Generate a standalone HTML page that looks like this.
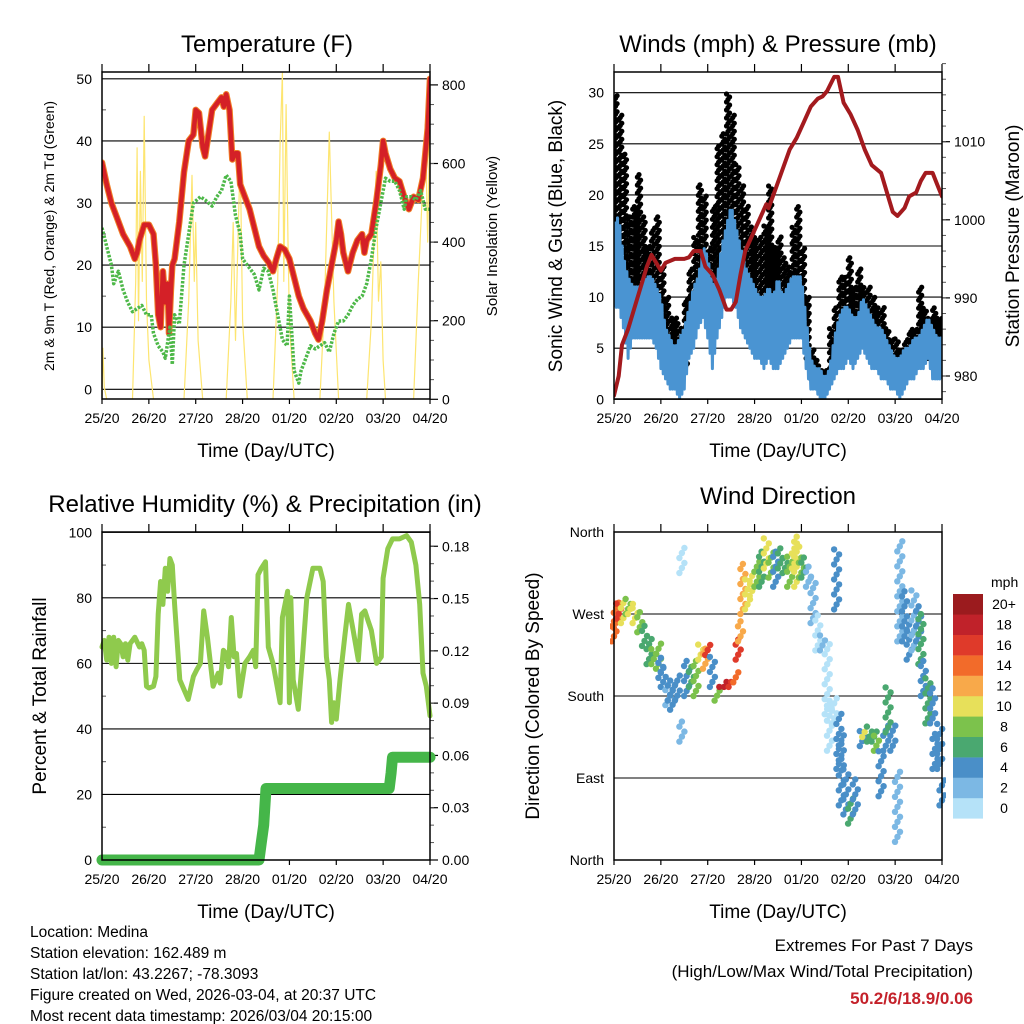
<!DOCTYPE html>
<html><head><meta charset="utf-8"><style>
body{margin:0;background:#fff}
svg{display:block;font-family:"Liberation Sans",sans-serif}
</style></head><body>
<svg id="chart" width="1024" height="1024" viewBox="0 0 1024 1024">
<defs>
<clipPath id="c1"><rect x="102" y="72" width="328" height="327"/></clipPath>
<clipPath id="c2"><rect x="614" y="72" width="328" height="327"/></clipPath>
<clipPath id="c3"><rect x="96" y="532" width="340" height="334"/></clipPath>
<clipPath id="c4"><rect x="610" y="528" width="336" height="336"/></clipPath>
</defs>
<g id="g1"></g>
<g id="g2"></g>
<g id="g3"></g>
<g id="g4"></g>
<g id="txt">
<text x="30" y="937" font-size="15.5">Location: Medina</text>
<text x="30" y="958" font-size="15.5">Station elevation: 162.489 m</text>
<text x="30" y="979" font-size="15.5">Station lat/lon: 43.2267; -78.3093</text>
<text x="30" y="1000" font-size="15.5">Figure created on Wed, 2026-03-04, at 20:37 UTC</text>
<text x="30" y="1021" font-size="15.5">Most recent data timestamp: 2026/03/04 20:15:00</text>
<text x="973" y="951" font-size="17" text-anchor="end">Extremes For Past 7 Days</text>
<text x="973" y="977" font-size="17" text-anchor="end">(High/Low/Max Wind/Total Precipitation)</text>
<text x="973" y="1004" font-size="17" font-weight="bold" fill="#c4212a" text-anchor="end">50.2/6/18.9/0.06</text>
</g>
</svg>
<script>
const dayLabels=["25/20","26/20","27/20","28/20","01/20","02/20","03/20","04/20"];
// Temperature (day, F)
const tempT=[0,0.1,0.2,0.3,0.45,0.6,0.7,0.75,0.8,0.9,1.0,1.1,1.15,1.2,1.25,1.3,1.35,1.4,1.43,1.47,1.5,1.55,1.65,1.75,1.85,1.95,2.0,2.07,2.15,2.2,2.27,2.35,2.45,2.55,2.6,2.65,2.72,2.78,2.85,2.9,2.95,3.05,3.15,3.25,3.35,3.45,3.55,3.65,3.72,3.8,3.9,4.0,4.1,4.2,4.3,4.45,4.55,4.62,4.7,4.8,4.9,5.0,5.05,5.1,5.15,5.25,5.35,5.45,5.55,5.6,5.65,5.75,5.85,5.95,6.0,6.05,6.15,6.25,6.35,6.45,6.55,6.65,6.75,6.85,6.95,7.0];
const tempV=[36.5,33,30,28,25,23,21,22,24,26.5,26.5,25,20,12,10,19,14,17,9,16,20,21,27,35,40,41,45,44.5,39,37.5,41,45,46,47,45.5,47.5,45,37,38,38,33,31,29,26,23,21.5,20.5,19,21,23,22.5,21,18,15,13,11,9,8,11,16,20,24,27,25,22,19,22,24,25,22,24,25,30,36,40,38,35.5,34,33.5,31,29,31,30.5,34,42,50];
const dewT=[0,0.1,0.2,0.25,0.35,0.45,0.55,0.65,0.75,0.85,0.95,1.05,1.1,1.2,1.3,1.35,1.45,1.5,1.55,1.65,1.75,1.85,1.95,2.1,2.2,2.35,2.45,2.55,2.65,2.75,2.85,2.95,3.0,3.15,3.25,3.35,3.45,3.55,3.65,3.75,3.85,3.95,4.0,4.05,4.1,4.2,4.25,4.35,4.45,4.55,4.65,4.75,4.85,4.95,5.05,5.15,5.25,5.35,5.45,5.55,5.65,5.75,5.85,5.95,6.05,6.15,6.25,6.35,6.45,6.5,6.6,6.7,6.8,6.9,7.0];
const dewV=[26,23,20,17,19,16,14,12.5,13,13.5,12,12,9,7,6,5,10,4,12,10.5,20,25,30,31,30.5,29.5,31,32,34.5,33.5,28,25,21,19.5,18.5,16,19.5,19,16,12,8,7,15,9,3,1,3,5,7,6.5,7,7.5,6,9,11,11,12,13.5,14.5,15,17,21,26,30,34,33.5,33.5,32,29,31,31,30.5,32,29,29];
const solarT=[0,0.02,0.05,0.1,0.65,0.72,0.75,0.78,0.82,0.86,0.9,0.95,1.0,1.1,1.75,1.85,1.92,1.97,2.0,2.05,2.15,2.65,2.75,2.8,2.85,2.9,2.95,3.0,3.1,3.65,3.75,3.8,3.85,3.88,3.93,3.97,4.0,4.1,4.65,4.75,4.85,4.95,5.05,5.65,5.75,5.85,5.9,5.95,6.0,6.05,6.65,6.75,6.85,6.9,6.95,7.0];
const solarV=[0,130,30,0,0,300,640,200,580,300,720,250,100,0,0,250,570,300,450,150,0,0,250,450,150,400,620,200,0,0,300,650,830,300,750,400,200,0,0,250,680,250,0,0,200,580,250,350,100,0,0,300,560,700,400,750];
// Winds (0.1-day steps)
const windLo=[9,9,7,4,6,6,6,6,6,5,3,2,1,1,0,1,4,5,7,8,6,3,6,8,10,10,9,7,6,5,4,4,3,4,3,3,4,5,6,6,6,3,1,1,0,0,1,2,3,3,4,3,4,5,4,3,3,2,2,1,1,0,1,2,2,3,3,4,2,2,2];
const windHi=[17,18,14,12,11,11,11,12,12,11,10,7,6,5,6,7,9,11,12,15,14,11,12,15,17,19,17,15,13,12,11,10,10,11,10,12,10,11,12,12,12,8,4,3,3,2,3,6,8,9,9,8,8,10,9,8,7,7,6,5,4,4,5,5,6,6,7,8,7,6,6];
const gustLo=[12,14,12,9,10,10,9,9,10,9,7,4,3,3,2,3,6,8,9,10,8,9,12,14,15,14,12,11,9,8,8,7,6,6,6,6,5,8,9,10,8,4,2,2,1,1,3,4,6,7,5,5,6,6,5,4,4,3,3,3,2,2,3,4,4,5,5,4,4,4,4];
const gustHi=[30,28,24,18,19,22,18,15,17,18,13,10,8,8,7,10,13,16,21,20,15,19,25,26,30,28,23,21,19,17,16,16,17,21,15,16,14,13,17,19,15,10,5,4,3,3,7,9,12,12,14,11,13,11,11,10,9,9,7,6,6,5,6,7,7,11,9,8,9,8,8];
const presT=[0,0.1,0.17,0.3,0.45,0.55,0.7,0.8,0.9,1.0,1.1,1.3,1.5,1.6,1.7,1.85,1.95,2.1,2.25,2.4,2.5,2.6,2.7,2.8,2.95,3.1,3.25,3.3,3.45,3.6,3.75,3.9,4.05,4.2,4.35,4.45,4.55,4.7,4.78,4.9,5.05,5.2,5.35,5.5,5.7,5.85,5.95,6.05,6.2,6.3,6.45,6.55,6.65,6.8,6.9,7.0];
const presV=[977.5,980,984,986,989,991,994,995.5,994.5,993.5,994.5,995,995,995.2,996,996,994,993,991,988.5,988.5,989.5,993,996,998,1000,1002,1001.5,1004,1006.5,1009,1010.5,1012.5,1014.5,1015.5,1015.8,1016.5,1018.3,1018.3,1015,1013.5,1011.5,1009,1007,1006,1003,1001,1000.5,1001.5,1003,1003.5,1005,1006,1006,1004.5,1003];
// RH & precip
const rhT=[0,0.05,0.1,0.15,0.2,0.25,0.3,0.35,0.4,0.45,0.5,0.55,0.6,0.7,0.8,0.85,0.9,0.95,1.0,1.1,1.15,1.2,1.25,1.3,1.35,1.4,1.45,1.5,1.55,1.66,1.75,1.84,1.95,2.02,2.1,2.17,2.25,2.37,2.48,2.52,2.59,2.65,2.7,2.76,2.82,2.87,2.94,3.05,3.15,3.23,3.28,3.33,3.4,3.49,3.55,3.65,3.8,3.85,3.96,4.0,4.03,4.08,4.19,4.28,4.37,4.5,4.65,4.72,4.79,4.85,4.9,4.95,5.0,5.08,5.18,5.26,5.36,5.47,5.54,5.61,5.68,5.75,5.86,5.96,6.0,6.1,6.2,6.35,6.5,6.6,6.7,6.78,6.85,6.92,7.0];
const rhV=[65,67,61,68,60,68,59,67,66,62,66,61,66,68,65,66,64,53,52.5,53,56,75,85,78,89,82,92,90,78,55,52,49,56,58,60,76,68,53,57,54,64,63,59,74,62,63,50,60,62,64,59,87,89,91,65,60,48,74,82,48,80,55,46,62,80,89,89,85,62,55,42,48,43,55,68,78,70,61,75,76,73,70,60,62,86,95,98,98,99,97,90,78,57,53,44];
const prT=[0,3.35,3.4,3.45,3.5,6.13,6.17,6.2,7.0];
const prV=[0,0,0.01,0.02,0.041,0.041,0.05,0.059,0.059];
// Wind direction clusters: day, dir lo, dir hi, speed
const dirT=[0,0.05,0.1,0.2,0.3,0.35,0.45,0.55,0.65,0.75,0.85,0.95,1.0,1.05,1.15,1.2,1.25,1.35,1.45,1.45,1.55,1.65,1.75,1.85,1.95,2.0,2.1,2.2,2.3,2.4,2.5,2.6,2.65,2.7,2.75,2.85,2.95,3.05,3.15,3.25,3.35,3.45,3.55,3.65,3.75,3.85,3.9,4.0,4.05,4.15,4.25,4.35,4.45,4.55,4.6,4.7,4.75,4.8,4.85,4.95,5.05,5.15,5.3,5.35,5.45,5.55,5.6,5.7,5.8,5.85,5.95,6.05,6.1,6.2,6.3,6.4,6.5,6.55,6.6,6.7,6.8,6.85,6.95,7.0];
const dirLo=[240,255,265,260,270,270,260,250,235,215,215,210,200,190,170,175,165,175,130,315,180,190,180,220,210,225,190,175,190,190,190,195,220,240,270,275,290,300,300,320,310,300,320,315,300,320,300,310,310,300,260,230,230,160,120,150,275,100,60,50,40,50,125,135,130,130,120,70,120,140,120,20,240,240,220,230,240,215,180,150,150,100,100,60];
const dirHi=[270,285,285,285,290,285,280,275,260,245,235,240,225,215,195,200,195,205,155,345,220,215,220,240,235,240,225,190,195,200,200,210,245,265,325,310,315,330,340,355,340,340,345,335,335,350,360,335,335,325,310,270,250,240,180,180,345,165,140,100,70,90,145,145,150,145,140,120,150,190,150,100,355,300,260,300,280,270,220,200,190,140,150,90];
const dirS=[15,14,16,10,8,10,10,9,7,6,9,8,5,4,3,4,4,4,2,1,4,6,8,10,12,16,5,8,18,19,16,14,16,13,12,10,10,9,7,10,8,4,7,6,8,11,10,8,6,3,2,1,2,1,0,1,4,4,4,5,7,4,5,10,7,6,8,4,4,6,4,2,2,4,4,3,4,6,4,6,5,4,4,4];
const binColors=["#b5e2f8","#7cb8e4","#4a8fc8","#4aa870","#7cc24c","#e7e05a","#f8a94a","#f26b2a","#df3a2a","#c0222a","#9b1b1e"];
const binLabels=["0","2","4","6","8","10","12","14","16","18","20+"];

const NS="http://www.w3.org/2000/svg";
function mk(parent,tag,attrs,text){const e=document.createElementNS(NS,tag);for(const k in attrs)e.setAttribute(k,attrs[k]);if(text!==undefined)e.textContent=text;parent.appendChild(e);return e;}
function xScale(b){return d=>b.x0+(b.x1-b.x0)*d/7;}

function frame(g,b,title,tx,ty){
  const t=mk(g,'text',{x:tx,y:ty,'font-size':24,'text-anchor':'middle'},title);
  
  
  const X=xScale(b);
  for(let i=0;i<8;i++){
    const x=X(i);
    mk(g,'line',{x1:x,y1:b.y0,x2:x,y2:b.y0-8,stroke:'#000','stroke-width':1.2});
    mk(g,'line',{x1:x,y1:b.y1,x2:x,y2:b.y1+5,stroke:'#000','stroke-width':1.2});
    const l=mk(g,'text',{x:x,y:b.y1+24,'font-size':14,'text-anchor':'middle'},dayLabels[i]);
    
    
  }
  const xl=mk(g,'text',{x:(b.x0+b.x1)/2,y:b.y1+58,'font-size':19,'text-anchor':'middle'},'Time (Day/UTC)');
  
  
}
function border(g,b){
  const r=mk(g,'rect',{x:b.x0,y:b.y0,width:b.x1-b.x0,height:b.y1-b.y0,fill:'none',stroke:'#000','stroke-width':1.5});
  
  
}
function grid(g,b,vals,Y){
  vals.forEach(v=>mk(g,'line',{x1:b.x0,x2:b.x1,y1:Y(v),y2:Y(v),stroke:'#000','stroke-width':1.1}));
}
function leftTicks(g,b,vals,Y,labels,minor){
  vals.forEach((v,i)=>{
    const t=mk(g,'text',{x:b.x0-10,y:Y(v)+5,'font-size':14,'text-anchor':'end'},labels[i]);
    
    
  });
  (minor||[]).forEach(v=>mk(g,'line',{x1:b.x0,x2:b.x0+4,y1:Y(v),y2:Y(v),stroke:'#555','stroke-width':1}));
}
function rightTicks(g,b,vals,Y,labels,minor){
  vals.forEach((v,i)=>{
    mk(g,'line',{x1:b.x1,x2:b.x1+8,y1:Y(v),y2:Y(v),stroke:'#000','stroke-width':1.2});
    const t=mk(g,'text',{x:b.x1+12,y:Y(v)+5,'font-size':14},labels[i]);
    
    
  });
  (minor||[]).forEach(v=>mk(g,'line',{x1:b.x1,x2:b.x1+4,y1:Y(v),y2:Y(v),stroke:'#555','stroke-width':1}));
}
function vtitle(g,x,y,txt,size,name){
  const t=mk(g,'text',{x:x,y:y,'font-size':size,'text-anchor':'middle',transform:`rotate(-90 ${x} ${y})`},txt);
  
  
}
function path(g,T,V,X,Y,attrs,name){
  const d=T.map((t,i)=>(i?'L':'M')+X(t).toFixed(1)+','+Y(V[i]).toFixed(1)).join('');
  const p=mk(g,'path',Object.assign({d:d,fill:'none','stroke-linejoin':'round','stroke-linecap':'round'},attrs));
  
  
  return p;
}
function range(a,b,s){const r=[];for(let v=a;v<=b+1e-9;v+=s)r.push(+v.toFixed(4));return r;}

// Panel 1
(function(){
  const g=document.getElementById('g1');const b={x0:102,x1:430,y0:72,y1:399};
  const X=xScale(b);const Y=t=>389.3-t*6.21;const YS=s=>399.3-s*0.393;
  frame(g,b,'Temperature (F)',267,52);
  grid(g,b,[0,10,20,30,40,50],Y);
  leftTicks(g,b,[0,10,20,30,40,50],Y,["0","10","20","30","40","50"],[5,15,25,35,45]);
  rightTicks(g,b,[0,200,400,600,800],YS,["0","200","400","600","800"],range(50,750,50));
  const c=mk(g,'g',{'clip-path':'url(#c1)'});
  
  
  path(c,solarT,solarV,X,YS,{stroke:'#fde570','stroke-width':1.2},'solar-line');
  path(c,tempT,tempV,X,Y,{stroke:'#f07e26','stroke-width':6.5},'temp-9m-line');
  path(c,tempT,tempV,X,Y,{stroke:'#d42027','stroke-width':4.5},'temp-2m-line');
  path(c,dewT,dewV,X,Y,{stroke:'#4db848','stroke-width':3.5,'stroke-dasharray':'2.5 1.5','stroke-linecap':'butt'},'dewpoint-line');
  border(g,b);
  vtitle(g,54,236,'2m & 9m T (Red, Orange) & 2m Td (Green)',14,'y-axis-title');
  vtitle(g,497,236,'Solar Insolation (Yellow)',15,'right-axis-title');
})();

// Panel 2
(function(){
  const g=document.getElementById('g2');const b={x0:614,x1:942,y0:72,y1:399};
  const X=xScale(b);const Y=v=>399.3-v*10.22;const YP=p=>376-(p-980)*7.81;
  frame(g,b,'Winds (mph) & Pressure (mb)',778,52);
  grid(g,b,[0,5,10,15,20,25,30],Y);
  leftTicks(g,b,[0,5,10,15,20,25,30],Y,["0","5","10","15","20","25","30"]);
  rightTicks(g,b,[980,990,1000,1010],YP,["980","990","1000","1010"],range(978,1020,2));
  const c=mk(g,'g',{'clip-path':'url(#c2)'});
  
  
  const dots=mk(c,'g',{fill:'#000'});
  
  
  for(let i=0;i<gustLo.length;i++){
    for(let k=0;k<3;k++){
      const t=Math.min(7,(i+k/3)*0.1);const x=X(t);
      const lo=Y(gustLo[i]),hi=Y(gustHi[i]);
      for(let y=lo-k*2.5;y>=hi;y-=8){mk(dots,'circle',{cx:x.toFixed(1),cy:y.toFixed(1),r:2.6});}
    }
  }
  let d='';
  for(let i=0;i<windLo.length;i++){
    const subs=i<windLo.length-1?4:1;
    for(let k=0;k<subs;k++){
      const f=k/4;const j=Math.min(i+1,windLo.length-1);
      const v=(k%2===0)?windLo[i]+(windLo[j]-windLo[i])*f:windHi[i]+(windHi[j]-windHi[i])*f;
      d+=(d?'L':'M')+X((i+f)*0.1).toFixed(1)+','+Y(v).toFixed(1);
    }
  }
  const w=mk(c,'path',{d:d,fill:'none',stroke:'#4a94d2','stroke-width':3,'stroke-linejoin':'round'});
  
  
  path(c,presT,presV,X,YP,{stroke:'#a31a1e','stroke-width':4},'pressure-line');
  border(g,b);
  vtitle(g,562,236,'Sonic Wind & Gust (Blue, Black)',19,'y-axis-title');
  vtitle(g,1019,236,'Station Pressure (Maroon)',19,'right-axis-title');
})();

// Panel 3
(function(){
  const g=document.getElementById('g3');const b={x0:102,x1:430,y0:532,y1:860};
  const X=xScale(b);const Y=r=>860-r*3.277;const YP=p=>860-p*1743;
  frame(g,b,'Relative Humidity (%) & Precipitation (in)',265,512);
  grid(g,b,[0,20,40,60,80,100],Y);
  leftTicks(g,b,[0,20,40,60,80,100],Y,["0","20","40","60","80","100"],[10,30,50,70,90]);
  rightTicks(g,b,[0,0.03,0.06,0.09,0.12,0.15,0.18],YP,["0.00","0.03","0.06","0.09","0.12","0.15","0.18"],range(0.01,0.18,0.01));
  const c=mk(g,'g',{'clip-path':'url(#c3)'});
  
  
  path(c,rhT,rhV,X,Y,{stroke:'#8fca4d','stroke-width':5},'rh-line');
  path(c,prT,prV,X,YP,{stroke:'#45b649','stroke-width':11},'precip-line');
  border(g,b);
  vtitle(g,46,696,'Percent & Total Rainfall',19,'y-axis-title');
})();

// Panel 4
(function(){
  const g=document.getElementById('g4');const b={x0:614,x1:942,y0:532,y1:860};
  const X=xScale(b);const Y=d=>860-d*0.9111;
  frame(g,b,'Wind Direction',778,504);
  grid(g,b,[0,90,180,270,360],Y);
  leftTicks(g,b,[0,90,180,270,360],Y,["North","East","South","West","North"]);
  const dots=mk(g,'g',{'clip-path':'url(#c4)'});
  
  
  for(let i=0;i<dirT.length;i++){
    const col=binColors[Math.min(10,Math.floor(dirS[i]/2))];
    const x=X(dirT[i]);
    let n=0;
    for(let y=Y(dirLo[i]);y>=Y(dirHi[i])-0.1;y-=5){
      const dx=(n%3)*2.5-2.5;n++;
      mk(dots,'circle',{cx:(x+dx).toFixed(1),cy:y.toFixed(1),r:3.2,fill:col});
    }
  }
  border(g,b);
  vtitle(g,539,696,'Direction (Colored By Speed)',19,'y-axis-title');
  const lg=mk(g,'g',{});
  
  
  mk(lg,'text',{x:991,y:587,'font-size':14},'mph');
  for(let i=0;i<11;i++){
    const y=594+(10-i)*20.4;
    const r=mk(lg,'rect',{x:953,y:y,width:30,height:20.6,fill:binColors[i]});
    
    
    mk(lg,'text',{x:1004,y:y+15,'font-size':14,'text-anchor':'middle'},binLabels[i]);
  }
})();
</script>
</body></html>
